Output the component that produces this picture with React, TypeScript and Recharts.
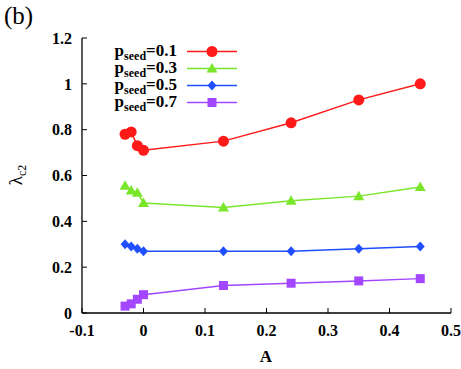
import { LineChart, Line, XAxis, YAxis, Legend } from 'recharts'

// A values and lambda_c2 for each p_seed
const A = [-0.03, -0.02, -0.01, 0, 0.13, 0.24, 0.35, 0.45]
const pSeed01 = [0.78, 0.79, 0.73, 0.71, 0.75, 0.83, 0.93, 1.0]
const pSeed03 = [0.555, 0.535, 0.525, 0.48, 0.46, 0.49, 0.51, 0.55]
const pSeed05 = [0.3, 0.29, 0.28, 0.27, 0.27, 0.27, 0.28, 0.29]
const pSeed07 = [0.03, 0.04, 0.06, 0.08, 0.12, 0.13, 0.14, 0.15]
const seedLabels = ['0.1', '0.3', '0.5', '0.7']
const xTicks = [-0.1, 0, 0.1, 0.2, 0.3, 0.4, 0.5]
const yTicks = [0, 0.2, 0.4, 0.6, 0.8, 1, 1.2]

const FONT = '"Liberation Serif", "Times New Roman", serif'

const series = [
  { key: 's1', values: pSeed01, color: '#ff1a1a', shape: 'circle' },
  { key: 's2', values: pSeed03, color: '#7ae62a', shape: 'triangle' },
  { key: 's3', values: pSeed05, color: '#1f4fff', shape: 'diamond' },
  { key: 's4', values: pSeed07, color: '#a346ff', shape: 'square' },
]

const data = A.map((a, i) => {
  const row: Record<string, number> = { A: a }
  series.forEach(s => { row[s.key] = s.values[i] })
  return row
})

function marker(shape: string, cx: number, cy: number, color: string, key?: string) {
  if (shape === 'circle') return <circle key={key} cx={cx} cy={cy} r={5.5} fill={color} />
  if (shape === 'triangle')
    return <polygon key={key} points={`${cx},${cy - 5.5} ${cx - 5.5},${cy + 4} ${cx + 5.5},${cy + 4}`} fill={color} />
  if (shape === 'diamond')
    return <polygon key={key} points={`${cx},${cy - 5} ${cx + 4.5},${cy} ${cx},${cy + 5} ${cx - 4.5},${cy}`} fill={color} />
  return <rect key={key} x={cx - 4.5} y={cy - 4.5} width={9} height={9} fill={color} />
}

const fmt = (v: number) => String(Number(v.toFixed(1)))

const renderLegend = () => (
  <div style={{ fontFamily: FONT, fontWeight: 'bold', color: '#000' }}>
    {series.map((s, i) => (
      <div key={s.key} style={{ display: 'flex', alignItems: 'center', height: 17 }}>
        <div style={{ width: 72, textAlign: 'right', fontSize: 17, lineHeight: '17px', whiteSpace: 'nowrap' }}>
          p<span style={{ fontSize: 12, position: 'relative', top: 4 }}>seed</span>={seedLabels[i]}
        </div>
        <svg width={64} height={17}>
          <line x1={10} x2={60} y1={8.5} y2={8.5} stroke={s.color} strokeWidth={1.5} />
          {marker(s.shape, 35, 8.5, s.color)}
        </svg>
      </div>
    ))}
  </div>
)

const tickStyle = { fontSize: 16, fontWeight: 'bold', fill: '#000', fontFamily: FONT }

export default function App() {
  return (
    <div style={{ position: 'absolute', left: 0, top: 0, width: 461, height: 369, background: '#fff' }}>
      <div style={{ position: 'absolute', left: 4, top: 2, fontFamily: FONT, fontSize: 25, color: '#000' }}>(b)</div>
      <LineChart width={461} height={369} data={data} margin={{ top: 38, right: 10, left: 0, bottom: 0 }}>
        <XAxis
          dataKey="A" type="number" domain={[-0.1, 0.5]} ticks={xTicks} tickFormatter={fmt}
          height={56} tickSize={-5} tickMargin={17} tick={tickStyle}
          axisLine={{ stroke: '#000', strokeWidth: 1.3 }} tickLine={{ stroke: '#000' }}
          label={{ content: () => <text x={266} y={362} textAnchor="middle" fontFamily={FONT} fontWeight="bold" fontSize={17}>A</text> }}
        />
        <XAxis
          xAxisId="top" orientation="top" dataKey="A" type="number" domain={[-0.1, 0.5]} ticks={xTicks}
          height={0} tickSize={-5} tick={false}
          axisLine={{ stroke: '#000', strokeWidth: 1.3 }} tickLine={{ stroke: '#000' }}
        />
        <YAxis
          type="number" domain={[0, 1.2]} ticks={yTicks} tickFormatter={fmt}
          width={82} tickSize={-5} tickMargin={15} tick={tickStyle}
          axisLine={{ stroke: '#000', strokeWidth: 1.3 }} tickLine={{ stroke: '#000' }}
          label={{
            content: () => (
              <text x={22} y={175} transform="rotate(-90 22 175)" textAnchor="middle" fontFamily={FONT} fontSize={19}>
                λ<tspan fontSize={12} dy={4}>c2</tspan>
              </text>
            ),
          }}
        />
        <YAxis
          yAxisId="right" orientation="right" type="number" domain={[0, 1.2]} ticks={yTicks}
          width={0} tickSize={-5} tick={false}
          axisLine={{ stroke: '#000', strokeWidth: 1.3 }} tickLine={{ stroke: '#000' }}
        />
        <Legend
          layout="vertical" verticalAlign="middle" align="center"
          content={renderLegend}
          wrapperStyle={{ left: 105, top: 43, width: 140 }}
        />
        {series.map(s => (
          <Line
            key={s.key} dataKey={s.key} stroke={s.color} strokeWidth={1.5}
            isAnimationActive={false}
            dot={(p: any) => marker(s.shape, p.cx, p.cy, s.color, `${s.key}-${p.index}`)}
            activeDot={false}
          />
        ))}
      </LineChart>
    </div>
  )
}
